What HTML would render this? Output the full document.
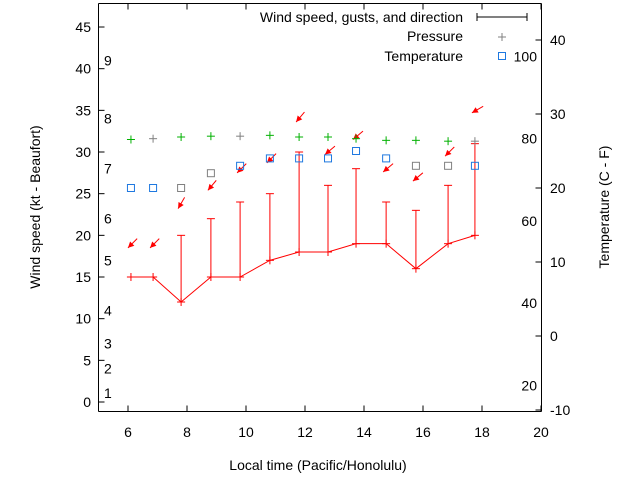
<!DOCTYPE html>
<html><head><meta charset="utf-8"><style>
body{margin:0;background:#fff;}
svg{display:block;font-family:"Liberation Sans",sans-serif;}
</style></head><body>
<svg id="chart" width="640" height="480" viewBox="0 0 640 480" xmlns="http://www.w3.org/2000/svg">
<g stroke="#000" stroke-width="1">
<line x1="98.5" y1="3.5" x2="541.5" y2="3.5"/>
<line x1="98.5" y1="411.5" x2="541.5" y2="411.5"/>
<line x1="98.5" y1="3.5" x2="98.5" y2="411.5"/>
<line x1="541.5" y1="3.5" x2="541.5" y2="411.5"/>
</g>
</svg>
<script>
const hours=[6.1,6.85,7.8,8.81,9.8,10.81,11.8,12.78,13.73,14.75,15.76,16.85,17.76];
const windSpeed=[15,15,12,15,15,17,18,18,19,19,16,19,20];
const gusts=[15,15,20,22,24,25,30,26,28,24,23,26,31];
const windDir=[45,45,30,40,45,45,40,50,50,50,50,45,60];
const arrowLevel=[18.5,18.5,23.2,25.4,27.5,28.7,33.6,29.7,31.5,27.6,26.5,29.5,34.7];
const pressure=[31.5,31.6,31.8,31.9,31.9,32.0,31.8,31.8,31.6,31.4,31.4,31.3,31.3];
const pressureColor=["#00b000","#808080","#00b000","#00b000","#808080","#00b000","#00b000","#00b000","#00b000","#00b000","#00b000","#00b000","#808080"];
const tempC=[20,20,20,22,23,24,24,24,25,24,23,23,23];
const tempColor=["#1e78e0","#1e78e0","#808080","#808080","#1e78e0","#1e78e0","#1e78e0","#1e78e0","#1e78e0","#1e78e0","#808080","#808080","#1e78e0"];
const xTicks=[6,8,10,12,14,16,18,20];
const yTicks=[0,5,10,15,20,25,30,35,40,45];
const cTicks=[-10,0,10,20,30,40];
const fLabels=[20,40,60,80,100];
const beaufortNums=[1,2,3,4,5,6,7,8,9];
const beaufortPos=[1.1,4,7,11,17,22,28,34,41];

const L=98.5,R=541.5,T=3.5,B=411.5;
const X=v=>98.5+(v-5)*29.5;
const Y=v=>402-v*8.333;
const YC=c=>40+(40-c)*7.4;
const NS="http://www.w3.org/2000/svg";
const svg=document.getElementById('chart');
function el(tag,attrs,parent){const e=document.createElementNS(NS,tag);for(const k in attrs)e.setAttribute(k,attrs[k]);(parent||svg).appendChild(e);return e;}
function txt(s,x,y,anchor,name,extra){const t=el('text',Object.assign({x:x,y:y,'font-size':14,'text-anchor':anchor||'start',fill:'#000'},extra||{}));t.textContent=s;return t;}

xTicks.forEach(v=>{
  const g=el('g',{});
  
  
  el('line',{x1:X(v),x2:X(v),y1:B,y2:B-6,stroke:'#000'},g);
  el('line',{x1:X(v),x2:X(v),y1:T,y2:T+6,stroke:'#000'},g);
  txt(String(v),X(v),437,'middle','x-tick-label');
});
yTicks.forEach(v=>{
  const l=el('line',{x1:L,x2:L+6,y1:Y(v),y2:Y(v),stroke:'#000'});
  
  
  txt(String(v),91,Y(v)+5,'end','y-tick-label');
});
cTicks.forEach(v=>{
  const l=el('line',{x1:R,x2:R-6,y1:YC(v),y2:YC(v),stroke:'#000'});
  
  
  txt(String(v),550,YC(v)+5,'start','y2-tick-label');
});
fLabels.forEach(f=>{txt(String(f),537,YC((f-32)*5/9)+5,'end','fahrenheit-label');});
beaufortNums.forEach((b,i)=>{txt(String(b),104,Y(beaufortPos[i])+5,'start','beaufort-label');});

txt('Local time (Pacific/Honolulu)',318,470,'middle','x-axis-title');
txt('Wind speed (kt - Beaufort)',40,207,'middle','y-axis-title',{transform:'rotate(-90 40 207)'});
txt('Temperature (C - F)',609,207,'middle','y2-axis-title',{transform:'rotate(-90 609 207)'});

let pts=hours.map((h,i)=>X(h)+','+Y(windSpeed[i])).join(' ');
const wl=el('polyline',{points:pts,fill:'none',stroke:'#f00','stroke-width':1});


hours.forEach((h,i)=>{
  const g=el('g',{stroke:'#f00','stroke-width':1});
  
  
  const x=X(h),y0=Y(windSpeed[i]),y1=Y(gusts[i]);
  el('line',{x1:x,x2:x,y1:y0,y2:y1},g);
  el('line',{x1:x-4,x2:x+4,y1:y1,y2:y1},g);
  el('line',{x1:x-4,x2:x+4,y1:y0,y2:y0},g);
  el('line',{x1:x,x2:x,y1:y0-4,y2:y0+4},g);
});
hours.forEach((h,i)=>{
  const g=el('g',{});
  
  
  const tx=X(h)-3,ty=Y(arrowLevel[i]),a=windDir[i]*Math.PI/180,Ln=13;
  const ux=Math.sin(a),uy=-Math.cos(a);
  el('line',{x1:tx,y1:ty,x2:tx+ux*Ln,y2:ty+uy*Ln,stroke:'#f00','stroke-width':1},g);
  const px=-uy,py=ux,hl=6,hw=3;
  const bx=tx+ux*hl,by=ty+uy*hl;
  el('polygon',{points:`${tx},${ty} ${bx+px*hw},${by+py*hw} ${bx-px*hw},${by-py*hw}`,fill:'#f00'},g);
});
hours.forEach((h,i)=>{
  const g=el('g',{stroke:pressureColor[i],'stroke-width':1});
  
  
  const x=X(h),y=Y(pressure[i]);
  el('line',{x1:x-4,x2:x+4,y1:y,y2:y},g);el('line',{x1:x,x2:x,y1:y-4,y2:y+4},g);
});
hours.forEach((h,i)=>{
  const r=el('rect',{x:X(h)-3.5,y:YC(tempC[i])-3.5,width:7,height:7,fill:'none',stroke:tempColor[i],'stroke-width':1});
  
  
});
const lg=el('g',{});


txt('Wind speed, gusts, and direction',463,22,'end','legend-wind-label');
el('line',{x1:477,x2:527,y1:17,y2:17,stroke:'#000'},lg);
el('line',{x1:477,x2:477,y1:13,y2:21,stroke:'#000'},lg);
el('line',{x1:527,x2:527,y1:13,y2:21,stroke:'#000'},lg);
txt('Pressure',463,41,'end','legend-pressure-label');
el('line',{x1:498,x2:506,y1:37,y2:37,stroke:'#808080'},lg);
el('line',{x1:502,x2:502,y1:33,y2:41,stroke:'#808080'},lg);
txt('Temperature',463,61,'end','legend-temperature-label');
el('rect',{x:498.5,y:52.5,width:7,height:7,fill:'none',stroke:'#1e78e0'},lg);
</script>
</body></html>
